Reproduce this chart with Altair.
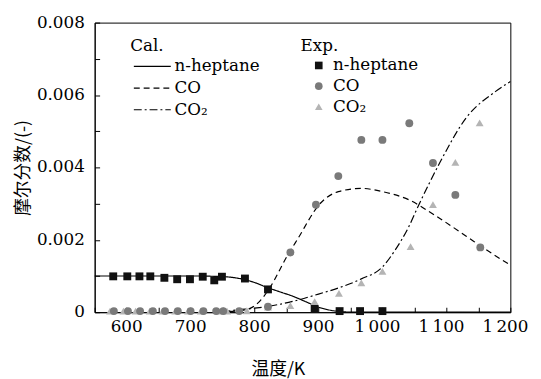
import altair as alt
import pandas as pd

# ---------------- data ----------------
series_names = ["n-heptane", "CO", "CO₂"]
cal_codes = ["cal_hep", "cal_co", "cal_co2"]
exp_codes = ["exp_hep", "exp_co", "exp_co2"]

# calculated curves
T_hep_cal = [550, 600, 650, 700, 740, 770, 800, 820, 840, 860, 880, 900, 920, 940, 960, 1000, 1200]
hep_cal = [0.00100, 0.00100, 0.00100, 0.00100, 0.00099, 0.00095, 0.00082, 0.00068, 0.00056,
           0.00044, 0.00029, 0.00014, 0.00005, 0.00001, 0.0, 0.0, 0.0]

T_co_cal = [745, 770, 792, 808, 823, 851, 867, 903, 931, 967, 1000, 1042, 1080, 1131, 1160, 1200]
co_cal = [0.0, 0.00003, 0.00010, 0.00030, 0.00065, 0.00155, 0.00201, 0.00301, 0.00333, 0.00342,
          0.00333, 0.00310, 0.00270, 0.00210, 0.00175, 0.00130]

T_co2_cal = [750, 770, 800, 821, 860, 900, 933, 967, 1000, 1020, 1040, 1057, 1090, 1131, 1177, 1200]
co2_cal = [0.0, 0.00006, 0.00011, 0.00016, 0.00030, 0.00050, 0.00068, 0.00092, 0.00125, 0.00172,
           0.00232, 0.00297, 0.00414, 0.00537, 0.00610, 0.00637]

# experimental points
T_hep_exp = [579, 601, 620, 637, 659, 679, 699, 719, 737, 749, 785, 821, 894, 933, 965, 1000]
hep_exp = [0.00099, 0.00099, 0.00099, 0.00099, 0.00095, 0.00091, 0.00091, 0.00098, 0.00088,
           0.00098, 0.00093, 0.00063, 0.00009, 0.00003, 0.00003, 0.00003]

T_co_exp = [580, 602, 621, 641, 660, 680, 700, 720, 740, 751, 776, 821, 856, 896, 931, 967, 1000,
            1042, 1079, 1114, 1153]
co_exp = [0.00003, 0.00003, 0.00003, 0.00003, 0.00003, 0.00003, 0.00003, 0.00003, 0.00003,
          0.00003, 0.00003, 0.00015, 0.00165, 0.00297, 0.00376, 0.00476, 0.00476, 0.00522,
          0.00412, 0.00324, 0.00179]

T_co2_exp = [574, 595, 614, 636, 656, 676, 696, 716, 744, 757, 788, 821, 856, 894, 932, 967, 1000,
             1044, 1079, 1114, 1152]
co2_exp = [0.00003, 0.00003, 0.00003, 0.00003, 0.00003, 0.00003, 0.00003, 0.00003, 0.00003,
           0.00003, 0.00004, 0.00014, 0.00018, 0.00029, 0.00052, 0.00081, 0.00113, 0.00181,
           0.00297, 0.00414, 0.00523]

x_ticks = list(range(550, 1201, 50))
y_ticks = [0.000, 0.001, 0.002, 0.003, 0.004, 0.005, 0.006, 0.007, 0.008]

x_label_values = [600, 700, 800, 900, 1000, 1100, 1200]
x_label_texts = ["600", "700", "800", "900", "1\u2009000", "1\u2009100", "1\u2009200"]
y_label_values = [0.0, 0.002, 0.004, 0.006, 0.008]
y_label_texts = ["0", "0.002", "0.004", "0.006", "0.008"]

x_title = "温度/K"
y_title = "摩尔分数/(-)"

# ---------------- tables ----------------
cal = pd.concat([
    pd.DataFrame({"T": T_hep_cal, "v": hep_cal, "calc": cal_codes[0]}),
    pd.DataFrame({"T": T_co_cal, "v": co_cal, "calc": cal_codes[1]}),
    pd.DataFrame({"T": T_co2_cal, "v": co2_cal, "calc": cal_codes[2]}),
])
exp = pd.concat([
    pd.DataFrame({"T": T_co2_exp, "v": co2_exp, "exp": exp_codes[2]}),
    pd.DataFrame({"T": T_co_exp, "v": co_exp, "exp": exp_codes[1]}),
    pd.DataFrame({"T": T_hep_exp, "v": hep_exp, "exp": exp_codes[0]}),
])
xlab = pd.DataFrame({"T": x_label_values, "t": x_label_texts})
ylab = pd.DataFrame({"v": y_label_values, "t": y_label_texts})


def label_expr(codes):
    e = "''"
    for c, n in reversed(list(zip(codes, series_names))):
        e = f"datum.label == '{c}' ? '{n}' : ({e})"
    return e


FONT = "DejaVu Serif"
CJK = "Noto Sans CJK SC"
FS = 17

xscale = alt.Scale(domain=[550, 1200], nice=False, zero=False)
yscale = alt.Scale(domain=[0, 0.008], nice=False)

lines = alt.Chart(cal).mark_line(color="black", strokeWidth=1.2, interpolate="monotone").encode(
    x=alt.X("T:Q", scale=xscale, axis=alt.Axis(
        orient="bottom", values=x_ticks, labels=False, ticks=False, grid=False,
        domain=True, domainColor="black",
        title=x_title, titleFont=CJK, titleFontSize=18, titleFontWeight="normal",
        titleColor="black", titleX=186, titleY=49)),
    y=alt.Y("v:Q", scale=yscale, axis=alt.Axis(
        orient="left", values=y_ticks, labels=False, ticks=False, grid=False,
        domain=True, domainColor="black",
        title=y_title, titleFont=CJK, titleFontSize=18, titleFontWeight="normal",
        titleColor="black", titleX=-72, titleBaseline="middle")),
    strokeDash=alt.StrokeDash("calc:N", scale=alt.Scale(
        domain=cal_codes, range=[[1, 0], [6, 4], [8, 3, 2, 3]]),
        legend=alt.Legend(title="Cal.", orient="none", legendX=36, legendY=16,
                          labelExpr=label_expr(cal_codes),
                          titleFont=FONT, labelFont=FONT, titleFontSize=FS, labelFontSize=FS,
                          symbolType="M-2.5,0H2.5", symbolSize=225, symbolStrokeColor="black",
                          symbolFillColor="transparent",
                          symbolStrokeWidth=1.2, symbolOffset=14, labelOffset=14,
                          rowPadding=4, titlePadding=3, padding=0)),
    detail="calc:N",
)

exp_legend = alt.Legend(title="Exp.", orient="none", legendX=209, legendY=16,
                        labelExpr=label_expr(exp_codes),
                        titleFont=FONT, labelFont=FONT, titleFontSize=FS, labelFontSize=FS,
                        symbolSize=60, symbolOffset=10, labelOffset=6,
                        rowPadding=3, titlePadding=2, padding=0)

points = alt.Chart(exp).mark_point(filled=True, opacity=1, size=64).encode(
    x=alt.X("T:Q", scale=xscale, axis=alt.Axis(
        orient="bottom", values=x_ticks, labels=False, ticks=True, tickSize=5, tickColor="black",
        domain=False, grid=False, offset=-5, title=None)),
    y=alt.Y("v:Q", scale=yscale, axis=alt.Axis(
        orient="left", values=y_ticks, labels=False, ticks=True, tickSize=5, tickColor="black",
        domain=False, grid=False, offset=-5, title=None)),
    color=alt.Color("exp:N", scale=alt.Scale(domain=exp_codes,
                                              range=["#111111", "#7a7a7a", "#b4b4b4"]),
                    legend=exp_legend),
    shape=alt.Shape("exp:N", scale=alt.Scale(domain=exp_codes,
                                              range=["square", "circle", "triangle-up"]),
                    legend=exp_legend),
)

xlabels_lo = alt.Chart(xlab).transform_filter("datum.T < 1000").mark_text(
    font=FONT, fontSize=FS, color="black", baseline="top", align="center").encode(
    x=alt.X("T:Q", scale=xscale, axis=None), y=alt.value(301), text="t:N")
xlabels_hi = alt.Chart(xlab).transform_filter("datum.T >= 1000").mark_text(
    font=FONT, fontSize=FS, color="black", baseline="top", align="center", dx=-5).encode(
    x=alt.X("T:Q", scale=xscale, axis=None), y=alt.value(301), text="t:N")
ylabels = alt.Chart(ylab).mark_text(
    font=FONT, fontSize=FS, color="black", baseline="middle", align="right").encode(
    y=alt.Y("v:Q", scale=yscale, axis=None), x=alt.value(-10), text="t:N")

chart = alt.layer(lines, points, xlabels_lo, xlabels_hi, ylabels).resolve_axis(
    x="independent", y="independent").properties(
    width=422, height=294,
    autosize=alt.AutoSizeParams(type="none"),
    padding={"left": 88, "top": 12, "right": 23, "bottom": 65},
    background="white",
).configure(font=FONT).configure_view(stroke="black", strokeWidth=1).configure_legend(
    titleFont=FONT, titleFontSize=FS, titleFontWeight="normal", titleColor="black",
    labelFont=FONT, labelFontSize=FS, labelColor="black", titleAnchor="start",
)

chart.save("out.html", embed_options={"renderer": "svg", "actions": False})
